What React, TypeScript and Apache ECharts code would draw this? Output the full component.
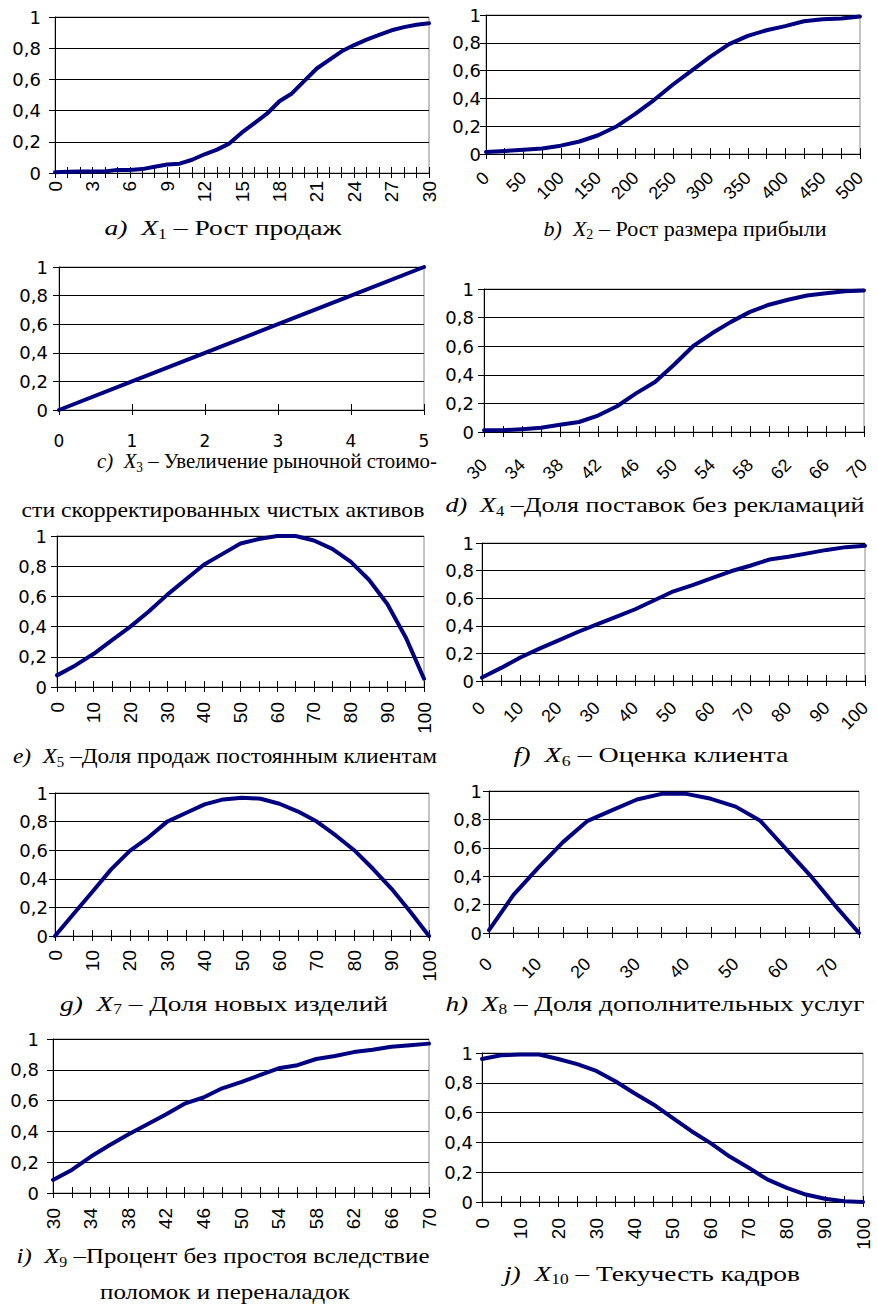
import React, { useEffect, useRef } from 'react';
import * as echarts from 'echarts';

// ---------- data ----------
const catA = ['0','1','2','3','4','5','6','7','8','9','10','11','12','13','14','15','16','17','18','19','20','21','22','23','24','25','26','27','28','29','30'];
const valA = [0.005,0.008,0.01,0.01,0.01,0.02,0.02,0.025,0.04,0.055,0.06,0.085,0.12,0.15,0.19,0.26,0.32,0.38,0.46,0.51,0.59,0.67,0.725,0.78,0.82,0.855,0.885,0.915,0.935,0.95,0.96];

const catB = ['0','25','50','75','100','125','150','175','200','225','250','275','300','325','350','375','400','425','450','475','500'];
const valB = [0.015,0.022,0.03,0.04,0.06,0.09,0.135,0.2,0.29,0.39,0.5,0.6,0.7,0.79,0.85,0.89,0.92,0.955,0.97,0.975,0.99];

const xC = [0,1,2,3,4,5];
const yC = [0,0.2,0.4,0.6,0.8,1];

const catD = ['30','32','34','36','38','40','42','44','46','48','50','52','54','56','58','60','62','64','66','68','70'];
const valD = [0.012,0.012,0.02,0.03,0.05,0.07,0.115,0.18,0.27,0.35,0.47,0.6,0.69,0.77,0.84,0.89,0.925,0.955,0.97,0.985,0.99];

const catE = ['0','5','10','15','20','25','30','35','40','45','50','55','60','65','70','75','80','85','90','95','100'];
const valE = [0.077,0.143,0.22,0.31,0.4,0.5,0.61,0.71,0.81,0.88,0.95,0.98,1.0,1.0,0.97,0.915,0.83,0.71,0.55,0.33,0.055];

const catF = ['0','5','10','15','20','25','30','35','40','45','50','55','60','65','70','75','80','85','90','95','100'];
const valF = [0.025,0.095,0.17,0.235,0.295,0.355,0.41,0.465,0.52,0.585,0.65,0.695,0.745,0.795,0.835,0.88,0.9,0.925,0.95,0.97,0.98];

const catG = ['0','5','10','15','20','25','30','35','40','45','50','55','60','65','70','75','80','85','90','95','100'];
const valG = [0,0.155,0.31,0.466,0.595,0.69,0.8,0.86,0.92,0.955,0.967,0.96,0.925,0.87,0.8,0.705,0.6,0.47,0.33,0.17,0];

const catH = ['0','5','10','15','20','25','30','35','40','45','50','55','60','65','70','75'];
const valH = [0.02,0.27,0.46,0.64,0.79,0.865,0.94,0.98,0.98,0.945,0.89,0.79,0.6,0.41,0.2,0];

const catI = ['30','32','34','36','38','40','42','44','46','48','50','52','54','56','58','60','62','64','66','68','70'];
const valI = [0.085,0.15,0.235,0.31,0.38,0.445,0.51,0.58,0.62,0.68,0.72,0.765,0.81,0.83,0.87,0.89,0.915,0.93,0.95,0.96,0.97];

const catJ = ['0','5','10','15','20','25','30','35','40','45','50','55','60','65','70','75','80','85','90','95','100'];
const valJ = [0.96,0.985,0.99,0.99,0.96,0.925,0.88,0.81,0.73,0.655,0.565,0.475,0.395,0.305,0.23,0.15,0.095,0.05,0.022,0.005,0];

const yTicks = { min: 0, max: 1, interval: 0.2 };

type Seg = [string, 'i' | 'n' | 's'];
const capA: Seg[] = [['a)','i'],['  ','n'],['X','i'],['1','s'],[' ','n'],['– Рост продаж','n']];
const capB: Seg[] = [['b)','i'],['  ','n'],['X','i'],['2','s'],[' ','n'],['– Рост размера прибыли','n']];
const capC: Seg[] = [['c)','i'],['  ','n'],['X','i'],['3','s'],[' ','n'],['– Увеличение рыночной стоимо-','n']];
const capC2 = 'сти скорректированных чистых активов';
const capD: Seg[] = [['d)','i'],['  ','n'],['X','i'],['4','s'],[' ','n'],['–Доля поставок без рекламаций','n']];
const capE: Seg[] = [['e)','i'],['  ','n'],['X','i'],['5','s'],[' ','n'],['–Доля продаж постоянным клиентам','n']];
const capF: Seg[] = [['f)','i'],['  ','n'],['X','i'],['6','s'],[' ','n'],['– Оценка клиента','n']];
const capG: Seg[] = [['g)','i'],['  ','n'],['X','i'],['7','s'],[' ','n'],['– Доля новых изделий','n']];
const capH: Seg[] = [['h)','i'],['  ','n'],['X','i'],['8','s'],[' ','n'],['– Доля дополнительных услуг','n']];
const capI: Seg[] = [['i)','i'],['  ','n'],['X','i'],['9','s'],[' ','n'],['–Процент без простоя вследствие','n']];
const capI2 = 'поломок и переналадок';
const capJ: Seg[] = [['j)','i'],['  ','n'],['X','i'],['10','s'],[' ','n'],['– Текучесть кадров','n']];

// ---------- layout / styles ----------
const SANS_H = 'DejaVu Sans';
const SANS_R = "'Liberation Sans Narrow', 'Liberation Sans'";
const SANS_D = 'Liberation Sans';
const SERIF = 'Liberation Serif';
const LINE = '#000080';

interface Panel {
  cats?: string[];
  vals?: number[];
  grid: [number, number, number, number];
  rot: number;
  lblInt: number;
  xMargin: number;
  yMargin: number;
}

const panels: Panel[] = [
  { cats: catA, vals: valA, grid: [55, 17, 374, 156], rot: 90, lblInt: 2, xMargin: 8, yMargin: 14 },
  { cats: catB, vals: valB, grid: [486, 15, 374, 139], rot: 45, lblInt: 1, xMargin: 21, yMargin: 5 },
  { grid: [59, 267, 365, 143], rot: 0, lblInt: 0, xMargin: 22, yMargin: 11 },
  { cats: catD, vals: valD, grid: [484, 289, 380, 143], rot: 45, lblInt: 1, xMargin: 30, yMargin: 10 },
  { cats: catE, vals: valE, grid: [57, 536, 367, 151], rot: 90, lblInt: 1, xMargin: 15, yMargin: 10 },
  { cats: catF, vals: valF, grid: [482, 543, 383, 138], rot: 45, lblInt: 1, xMargin: 24, yMargin: 8 },
  { cats: catG, vals: valG, grid: [55, 793, 374, 143], rot: 90, lblInt: 1, xMargin: 14, yMargin: 7 },
  { cats: catH, vals: valH, grid: [489, 791, 370, 142], rot: 45, lblInt: 1, xMargin: 28, yMargin: 7 },
  { cats: catI, vals: valI, grid: [53, 1039, 376, 154], rot: 90, lblInt: 1, xMargin: 15, yMargin: 14 },
  { cats: catJ, vals: valJ, grid: [482, 1053, 381, 149], rot: 90, lblInt: 1, xMargin: 16, yMargin: 9 },
];

// caption: segments, center x, center y, target width
const captions: [Seg[] | string, number, number, number][] = [
  [capA, 223, 228, 237],
  [capB, 685, 229, 283],
  [capC, 267, 461, 340],
  [capC2, 223, 510, 403],
  [capD, 655, 505, 419],
  [capE, 225, 756, 424],
  [capF, 651, 755, 275],
  [capG, 224, 1003, 328],
  [capH, 655, 1003, 419],
  [capI, 223, 1256, 413],
  [capI2, 225, 1292, 250],
  [capJ, 652, 1273, 296],
];

const fmt = (v: number) => String(Math.round(v * 10) / 10).replace('.', ',');

function buildOption() {
  const canvas = document.createElement('canvas');
  const ctx = canvas.getContext('2d')!;
  const fontOf = (k: string) =>
    k === 'i' ? `italic 22px "${SERIF}"` : k === 's' ? `14px "${SERIF}"` : `22px "${SERIF}"`;
  const measure = (segs: Seg[]) =>
    segs.reduce((s, [t, k]) => {
      ctx.font = fontOf(k);
      return s + ctx.measureText(t).width;
    }, 0);

  const grids: any[] = [];
  const xAxes: any[] = [];
  const yAxes: any[] = [];
  const series: any[] = [];

  panels.forEach((p, gi) => {
    const [left, top, width, height] = p.grid;
    grids.push({ left, top, width, height, show: true, borderColor: '#8a8a8a', borderWidth: 1, backgroundColor: 'transparent' });
    const isC = !p.cats;
    const labelFont = p.rot === 0 ? SANS_H : p.rot === 45 ? SANS_D : SANS_R;
    const labelSize = p.rot === 90 ? 19 : p.rot === 45 ? 18 : 17;
    const base: any = isC
      ? { type: 'value', min: 0, max: 5, interval: 1 }
      : { type: 'category', data: p.cats, boundaryGap: false };
    xAxes.push({
      ...base,
      gridIndex: gi,
      position: 'bottom',
      axisLine: { show: true, onZero: false, lineStyle: { color: '#000', width: 1 } },
      axisTick: { show: true, interval: 0, length: 5, lineStyle: { color: '#000', width: 1 } },
      axisLabel: {
        show: true,
        interval: p.lblInt,
        rotate: p.rot,
        margin: p.xMargin,
        color: '#000',
        fontFamily: labelFont,
        fontSize: labelSize,
        hideOverlap: false,
      },
      splitLine: { show: false },
    });
    xAxes.push({
      ...base,
      gridIndex: gi,
      position: 'bottom',
      axisLine: { show: false, onZero: false },
      axisTick: { show: true, inside: true, interval: 0, length: 6, lineStyle: { color: '#000', width: 1 } },
      axisLabel: { show: false },
      splitLine: { show: false },
    });
    yAxes.push({
      type: 'value',
      gridIndex: gi,
      ...yTicks,
      axisLine: { show: true, lineStyle: { color: '#000', width: 1 } },
      axisTick: { show: true, length: 6, lineStyle: { color: '#000', width: 1 } },
      axisLabel: { margin: p.yMargin, color: '#000', fontFamily: SANS_H, fontSize: 18, formatter: fmt },
      splitLine: { show: true, lineStyle: { color: '#000', width: 1 } },
    });
    series.push({
      type: 'line',
      xAxisIndex: gi * 2,
      yAxisIndex: gi,
      data: isC ? xC.map((x, i) => [x, yC[i]]) : p.vals,
      symbol: 'none',
      showSymbol: false,
      smooth: false,
      clip: false,
      silent: true,
      lineStyle: { color: LINE, width: 4, cap: 'round', join: 'round' },
      itemStyle: { color: LINE },
    });
  });

  const rich = {
    i: { fontFamily: SERIF, fontSize: 22, fontStyle: 'italic', lineHeight: 26, fill: '#000' },
    n: { fontFamily: SERIF, fontSize: 22, lineHeight: 26, fill: '#000' },
    s: { fontFamily: SERIF, fontSize: 14, lineHeight: 14, verticalAlign: 'bottom', fill: '#000' },
  };

  const graphics = captions.map(([c, cx, cy, tw]) => {
    if (typeof c === 'string') {
      const w = measure([[c, 'n']]);
      return {
        type: 'text', x: cx, y: cy, scaleX: tw / w, silent: true,
        style: { text: c, fontFamily: SERIF, fontSize: 22, fill: '#000', align: 'center', verticalAlign: 'middle' },
      };
    }
    const w = measure(c);
    return {
      type: 'text', x: cx, y: cy, scaleX: tw / w, silent: true,
      style: {
        text: c.map(([t, k]) => `{${k}|${t}}`).join(''),
        fontFamily: SERIF, fontSize: 22, fill: '#000', align: 'center', verticalAlign: 'middle', rich,
      },
    };
  });

  return {
    animation: false,
    backgroundColor: '#fff',
    grid: grids,
    xAxis: xAxes,
    yAxis: yAxes,
    series,
    graphic: { elements: graphics },
  };
}

export default function App() {
  const ref = useRef<HTMLDivElement>(null);
  useEffect(() => {
    if (!ref.current) return;
    const chart = echarts.init(ref.current, undefined, { renderer: 'svg' });
    chart.setOption(buildOption() as any);
    return () => chart.dispose();
  }, []);
  return (
    <div
      ref={ref}
      style={{ position: 'absolute', left: 0, top: 0, width: 877, height: 1306, background: '#fff' }}
    />
  );
}
